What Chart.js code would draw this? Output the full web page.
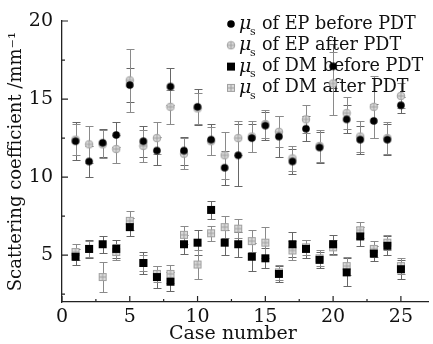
<!DOCTYPE html>
<html>
<head>
<meta charset="utf-8">
<script src="https://cdn.jsdelivr.net/npm/chart.js@4.4.1/dist/chart.umd.min.js"></script>
<style>
  html, body { margin: 0; padding: 0; background: #fff; }
  #wrap { width: 433px; height: 344px; position: relative; }
</style>
</head>
<body>
<div id="wrap"><canvas id="scatterChart"></canvas></div>
<script>
// case numbers and the four series
var cases = [1, 2, 3, 4, 5, 6, 7, 8, 9, 10, 11, 12, 13, 14, 15, 16, 17, 18, 19, 20, 21, 22, 23, 24, 25];

var epBefore    = [12.3, 11.0, 12.2, 12.7, 15.9, 12.3, 11.7, 15.8, 11.7, 14.5, 12.4, 10.6, 11.4, 12.5, 13.3, 12.6, 11.0, 13.1, 11.9, 17.1, 13.7, 12.4, 13.6, 12.4, 14.6];
var epBeforeErr = [1.2, 1.0, 0.9, 0.8, 1.1, 1.0, 0.9, 1.2, 0.9, 1.15, 1.0, 1.1, 2.0, 0.9, 0.9, 1.3, 0.8, 0.8, 1.0, 1.4, 0.9, 0.9, 1.1, 1.0, 0.5];
var epAfter     = [12.4, 12.1, 12.1, 11.8, 16.2, 12.0, 12.5, 14.5, 11.5, 14.4, 12.3, 11.4, 12.5, 12.6, 13.4, 12.9, 11.2, 13.7, 12.0, 16.0, 14.1, 12.6, 14.5, 12.5, 15.2];
var epAfterErr  = [1.0, 1.2, 0.9, 0.9, 2.0, 1.0, 1.0, 1.1, 1.0, 1.0, 0.9, 1.5, 1.1, 1.0, 0.9, 1.0, 0.8, 0.9, 1.0, 2.0, 1.0, 1.0, 2.0, 1.0, 0.8];

var dmBefore    = [4.9, 5.4, 5.7, 5.4, 6.8, 4.5, 3.6, 3.3, 5.7, 5.8, 7.9, 5.8, 5.7, 4.9, 4.8, 3.8, 5.7, 5.4, 4.7, 5.7, 3.9, 6.2, 5.1, 5.6, 4.1];
var dmBeforeErr = [0.5, 0.6, 0.55, 0.6, 0.6, 0.7, 0.7, 0.6, 0.6, 0.8, 0.6, 0.8, 0.8, 0.9, 0.65, 0.5, 0.8, 0.6, 0.5, 0.6, 0.9, 0.6, 0.5, 0.6, 0.6];
var dmAfter     = [5.2, 5.4, 3.6, 5.2, 7.2, 4.5, 3.8, 3.8, 6.3, 4.4, 6.4, 6.8, 6.7, 5.9, 5.8, 3.9, 5.3, 5.5, 4.8, 5.5, 4.3, 6.6, 5.4, 5.8, 4.3];
var dmAfterErr  = [0.5, 0.5, 0.95, 0.5, 0.6, 0.5, 0.5, 0.6, 0.6, 0.9, 0.5, 0.7, 0.6, 0.7, 1.0, 0.5, 0.6, 0.5, 0.5, 0.5, 0.6, 0.5, 0.5, 0.5, 0.5];

var seriesNames = ['of EP before PDT', 'of EP after PDT', 'of DM before PDT', 'of DM after PDT'];

var xTicks = [0, 5, 10, 15, 20, 25];
var yTicks = [5, 10, 15, 20];

Chart.defaults.font.family = "'DejaVu Serif', serif";
Chart.defaults.color = '#111';

// little marker images
function makeMark(shape, fill, stroke, cross) {
    var s = 10;
    var c = document.createElement('canvas');
    c.width = s; c.height = s;
    var g = c.getContext('2d');
    g.fillStyle = fill;
    g.strokeStyle = stroke;
    g.lineWidth = 1;
    if (shape === 'circle') {
        g.beginPath();
        g.arc(5, 5, 3.8, 0, Math.PI * 2);
        g.fill();
        if (stroke) g.stroke();
    } else {
        g.fillRect(1, 1, 8, 8);
        if (stroke) g.strokeRect(1.5, 1.5, 7, 7);
    }
    if (cross) {
        g.beginPath();
        g.moveTo(5, 1.5); g.lineTo(5, 8.5);
        g.moveTo(1.5, 5); g.lineTo(8.5, 5);
        g.stroke();
    }
    return c;
}

var markEpBefore = makeMark('circle', '#000', null, false);
var markEpAfter = makeMark('circle', '#dadada', '#a0a0a0', true);
var markDmBefore = makeMark('square', '#000', null, false);
var markDmAfter = makeMark('square', '#dadada', '#a0a0a0', true);

function toPoints(vals) {
    return cases.map(function (c, i) { return { x: c, y: vals[i] }; });
}

var errorBars = {
    id: 'errorBars',
    beforeDatasetsDraw: function (chart) {
        var ctx = chart.ctx, xs = chart.scales.x, ys = chart.scales.y;
        ctx.save();
        ctx.lineWidth = 1;
        chart.data.datasets.forEach(function (ds) {
            ctx.strokeStyle = ds.barColor;
            ds.errors.forEach(function (e, i) {
                var px = Math.round(xs.getPixelForValue(ds.data[i].x)) + 0.5;
                var top = Math.round(ys.getPixelForValue(ds.data[i].y + e)) + 0.5;
                var bot = Math.round(ys.getPixelForValue(ds.data[i].y - e)) + 0.5;
                ctx.beginPath();
                ctx.moveTo(px, top); ctx.lineTo(px, bot);
                ctx.moveTo(px - 4, top); ctx.lineTo(px + 4, top);
                ctx.moveTo(px - 4, bot); ctx.lineTo(px + 4, bot);
                ctx.stroke();
            });
        });
        ctx.restore();
    }
};

// inward major / minor ticks
var innerTicks = {
    id: 'innerTicks',
    afterDatasetsDraw: function (chart) {
        var ctx = chart.ctx, xs = chart.scales.x, ys = chart.scales.y, a = chart.chartArea;
        ctx.save();
        ctx.strokeStyle = '#222';
        ctx.lineWidth = 1.2;
        ctx.beginPath();
        for (var v = 0; v <= 27; v += 2.5) {
            var px = xs.getPixelForValue(v);
            var len = (v % 5 === 0) ? 6 : 3;
            ctx.moveTo(px, a.bottom); ctx.lineTo(px, a.bottom - len);
        }
        for (var w = 2.5; w <= 20; w += 2.5) {
            var py = ys.getPixelForValue(w);
            var l2 = (w % 5 === 0) ? 6 : 3;
            ctx.moveTo(a.left, py); ctx.lineTo(a.left + l2, py);
        }
        ctx.stroke();
        ctx.restore();
    }
};

// legend with italic mu and subscript s
var muLegend = {
    id: 'muLegend',
    beforeDatasetsDraw: function (chart) {
        var ctx = chart.ctx;
        ctx.save();
        ctx.fillStyle = '#111';
        ctx.textBaseline = 'middle';
        chart.data.datasets.forEach(function (ds, i) {
            var y = 24 + i * 21.3;
            ctx.drawImage(ds.pointStyle, 226, y - 5);
            ctx.font = "italic 19px 'DejaVu Serif'";
            ctx.fillText('\u03bc', 239, y);
            ctx.font = "11px 'DejaVu Serif'";
            ctx.fillText('s', 250, y + 8);
            ctx.font = "17.6px 'DejaVu Serif'";
            ctx.fillText(ds.label, 262, y);
        });
        ctx.restore();
    }
};

var ctx = document.getElementById('scatterChart').getContext('2d');
var chart = new Chart(ctx, {
    type: 'scatter',
    data: {
        datasets: [
            { label: seriesNames[0], data: toPoints(epBefore), errors: epBeforeErr, pointStyle: markEpBefore, barColor: '#666' },
            { label: seriesNames[1], data: toPoints(epAfter), errors: epAfterErr, pointStyle: markEpAfter, barColor: '#8a8a8a' },
            { label: seriesNames[2], data: toPoints(dmBefore), errors: dmBeforeErr, pointStyle: markDmBefore, barColor: '#666' },
            { label: seriesNames[3], data: toPoints(dmAfter), errors: dmAfterErr, pointStyle: markDmAfter, barColor: '#8a8a8a' }
        ]
    },
    options: {
        responsive: true,
        maintainAspectRatio: false,
        animation: false,
        layout: { padding: { left: 0, right: 4, top: 21, bottom: 0 } },
        plugins: {
            legend: { display: false },
            tooltip: { enabled: false }
        },
        scales: {
            x: {
                type: 'linear',
                min: 0,
                max: 27,
                afterBuildTicks: function (scale) {
                    scale.ticks = xTicks.map(function (v) { return { value: v }; });
                },
                afterFit: function (scale) { scale.height = 42; },
                grid: { display: false, drawTicks: false },
                border: { display: true, color: '#222', width: 1.3 },
                ticks: { font: { size: 19, lineHeight: 1.0 }, padding: 6, maxRotation: 0, color: '#111' },
                title: { display: true, text: 'Case number    ', font: { size: 19, lineHeight: 1.0 }, padding: 0, color: '#111' }
            },
            y: {
                min: 2,
                max: 20,
                afterBuildTicks: function (scale) {
                    scale.ticks = yTicks.map(function (v) { return { value: v }; });
                },
                afterFit: function (scale) { scale.width = 62; },
                grid: { display: false, drawTicks: false },
                border: { display: true, color: '#222', width: 1.3 },
                ticks: { font: { size: 19 }, padding: 9, color: '#111' },
                title: { display: true, text: 'Scattering coefficient /mm\u207b\u00b9', font: { size: 18 }, padding: { top: 6, bottom: 0 }, color: '#111' }
            }
        }
    },
    plugins: [errorBars, innerTicks, muLegend]
});
</script>
</body>
</html>
